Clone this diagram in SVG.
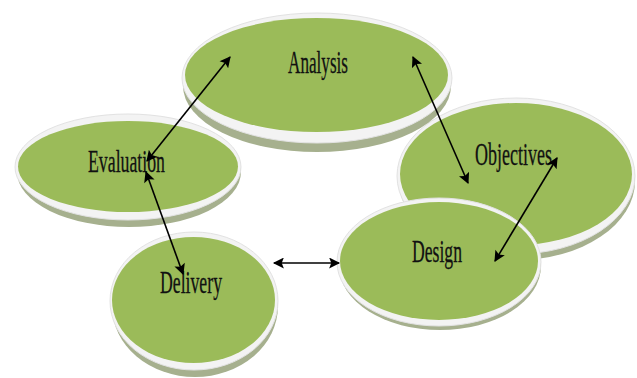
<svg xmlns="http://www.w3.org/2000/svg" width="637" height="378" viewBox="0 0 637 378">
<style>
.shadow{fill:#a6b08e;}
.rim{fill:#f3f3f3;stroke:#e2e2e2;stroke-width:1;}
.top{fill:#9bbb59;}
.lbl{font-family:"Liberation Serif","Times New Roman",serif;font-size:32px;fill:#111;stroke:#111;stroke-width:0.3;}
.conn{stroke:#000;stroke-width:1.6;fill:none;marker-start:url(#ah);marker-end:url(#ah);}
</style>
<defs>
<marker id="ah" viewBox="0 0 10 10" refX="9" refY="5" markerUnits="userSpaceOnUse" markerWidth="13" markerHeight="11" orient="auto-start-reverse">
<path d="M0,0 L10,5 L0,10 L2,5 z" fill="#000"/>
</marker>
</defs>
<rect width="637" height="378" fill="#fff"/>
<g id="objectives">
<ellipse class="shadow" cx="517" cy="181" rx="118" ry="79"/>
<ellipse class="rim" cx="516" cy="176" rx="119" ry="78"/>
<ellipse class="top" cx="516" cy="174" rx="116" ry="71"/>
<text class="lbl" x="475" y="165" textLength="77" lengthAdjust="spacingAndGlyphs">Objectives</text>
</g>
<g id="design">
<ellipse class="shadow" cx="440" cy="266" rx="101" ry="64"/>
<ellipse class="rim" cx="439" cy="262" rx="102" ry="64"/>
<ellipse class="top" cx="439" cy="261" rx="99" ry="59"/>
<text class="lbl" x="412" y="262" textLength="50" lengthAdjust="spacingAndGlyphs">Design</text>
</g>
<g id="evaluation">
<ellipse class="shadow" cx="129" cy="172" rx="112" ry="55"/>
<ellipse class="rim" cx="128" cy="167" rx="113" ry="53"/>
<ellipse class="top" cx="128" cy="166.5" rx="110" ry="45.5"/>
<text class="lbl" x="88" y="172" textLength="77" lengthAdjust="spacingAndGlyphs">Evaluation</text>
</g>
<g id="analysis">
<ellipse class="shadow" cx="317" cy="86" rx="134" ry="66"/>
<ellipse class="rim" cx="317" cy="78" rx="135" ry="65"/>
<ellipse class="top" cx="316.5" cy="75" rx="131.5" ry="57"/>
<text class="lbl" x="288" y="73" textLength="60" lengthAdjust="spacingAndGlyphs">Analysis</text>
</g>
<g id="delivery">
<ellipse class="shadow" cx="195" cy="306" rx="83" ry="71"/>
<ellipse class="rim" cx="194" cy="301" rx="84" ry="69"/>
<ellipse class="top" cx="193.5" cy="300" rx="81.5" ry="63"/>
<text class="lbl" x="160" y="293" textLength="62" lengthAdjust="spacingAndGlyphs">Delivery</text>
</g>
<g id="connectors">
<line class="conn" x1="230" y1="57" x2="147" y2="161"/>
<line class="conn" x1="413" y1="57" x2="468" y2="183"/>
<line class="conn" x1="146" y1="172" x2="183" y2="274"/>
<line class="conn" x1="274" y1="263" x2="339" y2="263"/>
<line class="conn" x1="557" y1="158" x2="495" y2="261"/>
</g>
</svg>
